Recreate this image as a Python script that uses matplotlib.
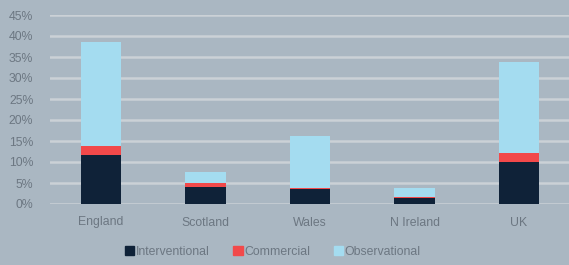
import numpy as np
import matplotlib.pyplot as plt
from matplotlib.patches import Patch

# values (fractions)
regions = ['England', 'Scotland', 'Wales', 'N Ireland', 'UK']
interventional = [0.116, 0.040, 0.035, 0.015, 0.101]
commercial = [0.022, 0.011, 0.003, 0.001, 0.020]
observational = [0.247, 0.026, 0.125, 0.023, 0.216]

bg = '#aab7c2'
c_int = '#0f2238'
c_com = '#f2494a'
c_obs = '#a4dcf0'
txt = '#6c7782'

plt.rcParams['font.family'] = ['Liberation Sans', 'DejaVu Sans']

fig = plt.figure(figsize=(5.69, 2.65), dpi=100, facecolor=bg)
ax = fig.add_axes([50/569, 1-204/265, 519/569, (204-15)/265], facecolor=bg)

x = np.arange(len(regions))
w = 0.39
b1 = np.array(interventional)
b2 = b1 + np.array(commercial)
ax.bar(x, interventional, w, color=c_int, zorder=3)
ax.bar(x, commercial, w, bottom=b1, color=c_com, zorder=3)
ax.bar(x, observational, w, bottom=b2, color=c_obs, zorder=3)

ax.set_xlim(-0.488, 4.478)
ax.set_ylim(0, 0.45)
ax.set_yticks(np.arange(0, 0.451, 0.05))
ax.set_yticklabels([f'{int(round(v*100))}%' for v in np.arange(0, 0.451, 0.05)])
ax.set_xticks(x)
ax.set_xticklabels(regions)
ax.yaxis.grid(True, color='#cbd1d6', lw=1.8, zorder=0)
ax.set_axisbelow(True)
for s in ax.spines.values():
    s.set_visible(False)
ax.tick_params(length=0, colors=txt, labelsize=8.8)
ax.tick_params(axis='x', pad=9)
ax.tick_params(axis='y', pad=12)

handles = [Patch(color=c_int, label='Interventional'),
           Patch(color=c_com, label='Commercial'),
           Patch(color=c_obs, label='Observational')]
leg = fig.legend(handles=handles, loc='center', bbox_to_anchor=(273/569, 1-252/265),
                 ncol=3, frameon=False, fontsize=8.8, handlelength=0.75,
                 handleheight=0.75, handletextpad=0.15, columnspacing=1.9)
for t in leg.get_texts():
    t.set_color(txt)

fig.savefig('out.png', dpi=100, facecolor=bg)
